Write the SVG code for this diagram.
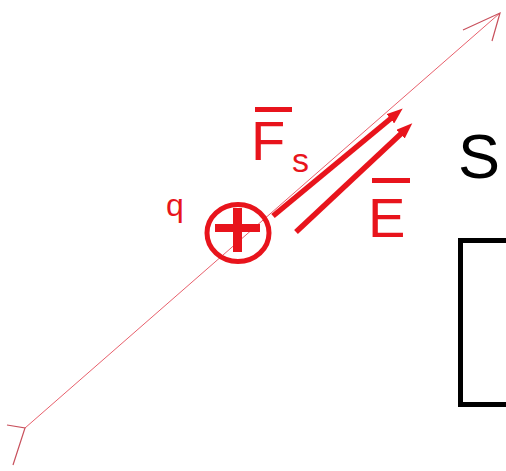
<svg xmlns="http://www.w3.org/2000/svg" width="506" height="471" viewBox="0 0 506 471">
<defs>
<style>
.red{fill:#e8141c}
.thin{stroke:#e8606c;stroke-width:1;fill:none}
.wing{stroke:#c8505c;stroke-width:1.2;fill:none}
.vec{stroke:#e8141c;stroke-width:5.5;fill:none;marker-end:url(#ah)}
.bar{stroke:#e8141c;stroke-width:5}
.lbl{font-family:"Liberation Sans",Arial,sans-serif}
</style>
<marker id="ah" viewBox="0 0 16 12" refX="6" refY="6" markerWidth="16" markerHeight="12" markerUnits="userSpaceOnUse" orient="auto">
<path d="M0,0 L16,6 L0,12 Z" fill="#e8141c"/>
</marker>
</defs>
<rect width="506" height="471" fill="#fff"/>
<g id="connectors">
<g id="field-line">
<line class="thin" x1="25" y1="428" x2="500" y2="13"/>
<polyline class="wing" points="463,30 500,13 492,41"/>
<polyline class="wing" points="7,425 25,428 13,465"/>
</g>
<line id="force-arrow" class="vec" x1="273" y1="216" x2="395" y2="115"/>
<line id="field-arrow" class="vec" x1="296" y1="232" x2="405" y2="130"/>
</g>
<g id="charge">
<ellipse cx="238" cy="233" rx="31" ry="28.5" fill="none" stroke="#e8141c" stroke-width="5"/>
<rect class="red" x="215" y="224" width="45" height="8"/>
<rect class="red" x="233" y="208" width="9" height="44"/>
<text class="lbl red" x="166" y="216" font-size="32">q</text>
</g>
<g id="label-Fs">
<text class="lbl red" x="251" y="160" font-size="56">F</text>
<line class="bar" x1="255" y1="109.5" x2="292" y2="109.5"/>
<text class="lbl red" x="292" y="172" font-size="34">s</text>
</g>
<g id="label-E">
<text class="lbl red" x="368" y="237" font-size="56">E</text>
<line class="bar" x1="372" y1="180.5" x2="410" y2="180.5"/>
</g>
<g id="surface">
<text class="lbl" x="458" y="178" font-size="63" fill="#000">S</text>
<path d="M506,240.5 H460.5 V404.5 H506" fill="none" stroke="#000" stroke-width="5"/>
</g>
</svg>
